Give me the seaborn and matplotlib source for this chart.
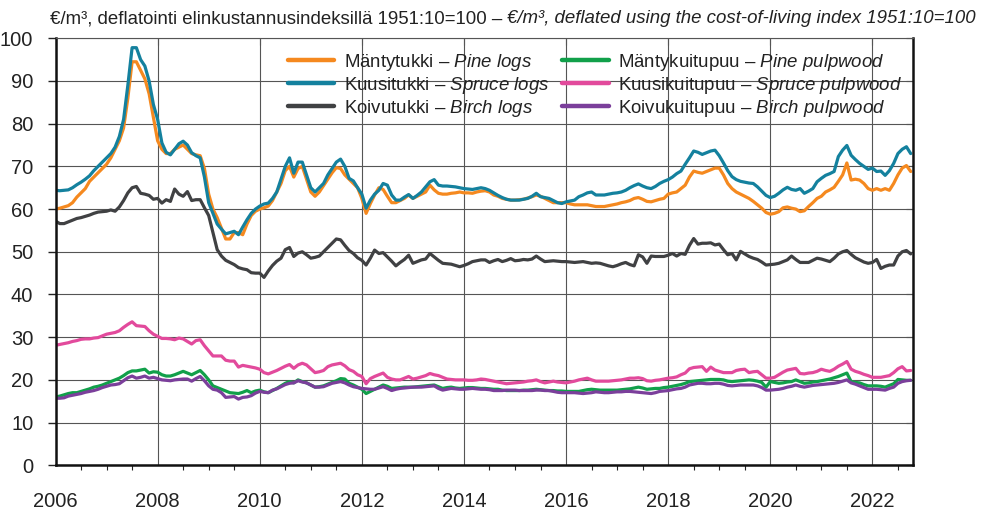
import matplotlib
matplotlib.use('Agg')
import matplotlib.pyplot as plt
from matplotlib import font_manager
from matplotlib.ticker import MultipleLocator, FormatStrFormatter
import seaborn as sns
import pandas as pd

# Kuukausihinnat 2006:01 - 2022:10, €/m³ deflatoituna (luettu kuvasta)
pine_logs = [
    60.0, 60.2, 60.5, 60.8, 61.5, 62.8, 63.8, 64.8, 66.5, 67.5, 68.5, 69.5,
    70.5, 72.0, 74.0, 76.0, 79.0, 86.0, 94.5, 94.5, 92.5, 90.5, 87.0, 81.5,
    76.0, 74.0, 73.0, 73.0, 74.0, 74.5, 75.0, 74.0, 73.0, 72.7, 72.5, 69.5,
    63.5, 60.0, 58.0, 55.5, 53.0, 53.0, 54.5, 54.5, 54.0, 56.5, 58.5, 59.5,
    60.0, 60.3, 60.7, 62.0, 64.0, 66.0, 69.0, 70.0, 67.5, 69.5, 70.0, 67.0,
    64.0, 63.0, 64.0, 65.5, 67.0, 68.5, 69.7, 69.5, 68.0, 67.0, 66.0, 65.0,
    62.5, 59.0, 61.3, 63.3, 65.0, 64.6, 63.0, 61.5, 61.5, 62.0, 62.5, 63.3,
    62.5, 63.0, 63.5, 64.0, 65.6, 64.5, 63.7, 63.5, 63.5, 63.7, 63.8, 64.0,
    63.8, 63.8, 63.7, 64.0, 64.2, 64.3, 64.0, 63.3, 63.0, 62.5, 62.3, 62.1,
    62.1, 62.2, 62.3, 62.6, 62.9, 63.3, 63.0, 62.5, 62.0, 61.5, 61.5, 61.5,
    61.5, 61.2, 61.0, 61.0, 61.0, 61.0, 60.8, 60.6, 60.6, 60.6, 60.8, 61.0,
    61.2, 61.5, 61.7, 62.0, 62.5, 62.7, 62.3, 61.8, 61.7, 62.0, 62.3, 62.5,
    63.5, 63.8, 64.0, 64.8, 65.6, 67.5, 68.9, 68.6, 68.4, 68.8, 69.2, 69.6,
    69.6, 68.0, 66.0, 64.8, 64.0, 63.5, 63.0, 62.5, 61.8, 61.0, 60.2, 59.2,
    58.8, 59.0, 59.4, 60.3, 60.5, 60.2, 60.0, 59.4, 59.6, 60.6, 61.5, 62.5,
    63.0, 64.0, 64.5, 65.1, 66.5, 68.0, 70.8, 66.8, 67.0, 66.8, 66.0, 64.8,
    64.4, 64.8, 64.4, 64.8, 64.4, 66.0, 68.0, 69.6, 70.2, 68.8,
]
spruce_logs = [
    64.4, 64.3, 64.4, 64.5, 65.0, 65.7, 66.3, 67.0, 67.8, 69.0, 70.0, 71.0,
    72.0, 73.0, 74.5, 77.0, 81.0, 89.0, 97.8, 97.8, 95.0, 93.5, 90.0, 84.5,
    81.0, 75.5, 73.3, 72.7, 74.0, 75.3, 75.9, 75.0, 73.2, 72.5, 72.0, 67.5,
    61.5, 59.0, 56.5, 55.3, 54.2, 54.5, 54.8, 54.0, 55.8, 57.5, 59.0, 60.0,
    60.7, 61.2, 61.4, 62.5, 64.0, 67.0, 70.0, 72.0, 68.4, 71.0, 71.0, 68.0,
    65.0, 64.0, 65.0, 66.0, 68.0, 69.5, 71.0, 71.7, 70.0, 67.2, 66.6, 65.0,
    63.5, 60.2, 62.1, 63.5, 64.4, 66.0, 65.6, 63.3, 62.1, 62.1, 62.8, 63.4,
    62.5, 63.2, 64.0, 65.2, 66.4, 66.9, 65.6, 65.4, 65.4, 65.3, 65.2, 65.0,
    64.8, 64.7, 64.6, 64.8, 65.0, 64.8, 64.4, 63.8, 63.2, 62.7, 62.3, 62.1,
    62.1, 62.1, 62.3, 62.5, 63.0, 63.7, 62.9, 62.7, 62.5, 62.0, 61.5, 61.3,
    61.7, 61.9, 62.1, 62.9, 63.3, 63.8, 64.0, 63.3, 63.3, 63.3, 63.5, 63.7,
    63.8, 64.0, 64.4, 65.0, 65.5, 65.9, 65.4, 65.0, 64.8, 65.3, 66.0, 66.5,
    66.9, 67.5, 68.3, 68.9, 70.5, 72.0, 73.6, 73.3, 72.8, 73.2, 73.6, 73.8,
    72.5, 70.8, 69.0, 67.6, 66.9, 66.5, 66.3, 66.1, 66.0, 65.2, 64.2, 63.2,
    62.7, 63.0, 63.7, 64.5, 65.1, 64.6, 64.4, 64.8, 63.7, 64.2, 64.8, 66.4,
    67.2, 67.9, 68.3, 68.8, 72.3, 73.8, 74.9, 72.6, 71.6, 70.7, 70.0, 69.3,
    69.6, 68.8, 68.9, 67.9, 69.0, 70.7, 73.0, 74.0, 74.6, 73.0,
]
birch_logs = [
    57.2, 56.6, 56.6, 57.0, 57.4, 57.8, 58.0, 58.3, 58.6, 59.0, 59.3, 59.4,
    59.5, 59.8, 59.5, 60.5, 62.0, 63.8, 65.0, 65.3, 63.7, 63.5, 63.2, 62.3,
    62.5, 61.4, 62.2, 61.8, 64.7, 63.5, 63.0, 64.1, 62.0, 62.2, 62.2, 60.3,
    58.5, 54.5, 50.5, 49.0, 48.0, 47.5, 47.0, 46.3, 46.0, 45.8, 45.1, 45.0,
    45.0, 44.0, 45.5, 46.8, 47.8, 48.5, 50.5, 51.0, 48.9, 49.7, 50.0, 49.3,
    48.5, 48.7, 49.0, 50.0, 51.0, 52.0, 53.0, 52.8, 51.5, 50.3, 49.6, 48.6,
    48.0, 46.9, 48.5, 50.4, 49.6, 49.8, 48.8, 47.8, 46.7, 47.5, 48.2, 49.2,
    47.3, 47.7, 48.1, 48.3, 49.6, 48.8, 48.0, 47.3, 47.2, 47.1, 46.8, 46.5,
    46.8, 47.2, 47.7, 47.9, 48.1, 48.1, 47.5, 47.9, 48.2, 47.7, 48.0, 48.4,
    47.9, 48.0, 48.2, 48.1, 48.3, 49.0, 48.3, 47.7, 47.8, 47.9, 47.8, 47.7,
    47.7, 47.6, 47.5, 47.6, 47.7, 47.5, 47.3, 47.4, 47.3, 47.0, 46.7, 46.5,
    46.8, 47.2, 47.5, 47.0, 46.7, 49.3, 48.8, 47.3, 49.0, 48.9, 48.9, 48.9,
    49.2, 49.6, 49.0, 49.6, 49.4, 51.5, 53.1, 51.8, 52.0, 52.0, 52.1, 51.6,
    51.8, 50.5, 49.3, 49.6, 48.1, 50.1, 49.5, 48.9, 48.5, 48.2, 47.6, 46.9,
    47.0, 47.1, 47.3, 47.7, 48.1, 49.0, 48.2, 47.5, 47.5, 47.5, 48.0, 48.5,
    48.3, 48.0, 47.7, 48.5, 49.5, 50.0, 50.3, 49.4, 48.6, 48.1, 47.6, 47.3,
    47.5, 48.2, 46.1, 46.6, 46.9, 46.9, 49.0, 50.0, 50.3, 49.5,
]
pine_pulp = [
    16.0, 16.2, 16.5, 16.8, 17.0, 17.0, 17.3, 17.6, 17.9, 18.3, 18.5, 18.8,
    19.2, 19.6, 20.0, 20.4, 21.0, 21.7, 22.1, 22.1, 22.3, 22.5, 21.6, 21.9,
    21.8, 21.2, 20.9, 20.9, 21.2, 21.6, 22.0, 21.6, 21.2, 21.7, 22.2, 21.2,
    20.0, 18.6, 18.2, 17.8, 17.4, 17.0, 16.9, 16.8, 17.1, 17.5, 17.0, 17.4,
    17.6, 17.2, 17.0, 17.5, 18.0, 18.6, 19.2, 19.6, 19.3, 20.0, 19.6, 19.3,
    18.8, 18.3, 18.4, 18.6, 19.0, 19.4, 19.8, 20.3, 20.2, 19.2, 18.8, 18.3,
    17.8, 16.8, 17.3, 17.8, 18.3, 18.8, 18.5, 18.0, 18.1, 18.2, 18.3, 18.3,
    18.3, 18.4, 18.5, 18.6, 18.7, 18.8, 18.4, 18.0, 18.2, 18.3, 18.1, 18.0,
    18.1, 18.2, 18.2, 18.1, 18.0, 18.0, 17.9, 17.8, 17.8, 17.6, 17.5, 17.5,
    17.5, 17.5, 17.6, 17.6, 17.7, 17.8, 17.7, 17.6, 17.5, 17.5, 17.4, 17.4,
    17.3, 17.3, 17.3, 17.3, 17.5, 17.7, 17.8, 17.7, 17.6, 17.6, 17.6, 17.6,
    17.6, 17.7, 17.8, 17.9, 18.1, 18.3, 18.1, 17.8, 17.9, 18.0, 18.0, 18.2,
    18.3, 18.5, 18.7, 18.9, 19.2, 19.6, 19.7, 19.8, 19.9, 20.0, 20.1, 20.1,
    20.1, 20.0, 19.7, 19.6, 19.7, 19.8, 19.9, 20.0, 19.9, 19.7, 19.4, 18.3,
    19.6, 19.4, 19.2, 19.3, 19.5, 19.6, 20.0, 19.6, 19.2, 19.3, 19.5, 19.6,
    19.8, 20.0, 20.2, 20.5, 20.8, 21.2, 21.6, 19.6, 19.4, 19.3, 18.9, 18.6,
    18.6, 18.6, 18.5, 18.3, 18.7, 19.1, 20.1, 20.0, 19.9, 19.9,
]
spruce_pulp = [
    28.1, 28.3, 28.5, 28.7, 29.0, 29.2, 29.5, 29.6, 29.6, 29.8, 29.9, 30.3,
    30.7, 30.9, 31.1, 31.5, 32.3, 33.0, 33.6, 32.7, 32.6, 32.5, 31.5, 30.7,
    30.2, 29.7, 29.7, 29.6, 29.4, 29.8, 29.6, 29.0, 28.4, 29.2, 29.4, 28.0,
    26.8, 25.6, 25.6, 25.6, 24.6, 24.4, 24.4, 23.0, 23.4, 23.2, 23.0, 22.8,
    22.5, 21.7, 21.4, 21.8, 22.2, 22.7, 23.2, 23.6, 22.7, 23.5, 23.9, 23.5,
    22.6, 21.7, 21.9, 22.2, 23.1, 23.5, 23.7, 23.9, 23.3, 22.4, 22.0, 21.2,
    20.8, 19.1, 20.3, 20.8, 21.2, 21.6, 20.6, 20.2, 20.0, 20.0, 20.4, 20.8,
    20.2, 20.4, 20.7, 21.0, 21.5, 21.2, 21.0, 20.6, 20.2, 20.1, 20.0, 20.0,
    20.0, 19.9, 19.9, 20.0, 20.2, 20.1, 19.9, 19.7, 19.5, 19.3, 19.1, 19.2,
    19.3, 19.4, 19.5, 19.7, 19.8, 20.0, 19.6, 19.3, 19.5, 19.7, 19.5, 19.4,
    19.3, 19.5, 19.7, 20.0, 20.2, 20.4, 20.0, 19.7, 19.7, 19.7, 19.7, 19.8,
    19.9, 20.0, 20.2, 20.4, 20.4, 20.5, 20.3, 19.8, 19.7, 19.9, 20.0, 20.2,
    20.4, 20.5, 20.7, 21.2, 21.6, 22.6, 22.9, 23.0, 23.1, 22.0, 23.0, 22.3,
    22.0, 21.7, 21.7, 21.7, 22.2, 22.4, 22.5, 21.7, 21.9, 22.0, 21.2, 20.4,
    20.4, 20.6, 21.2, 21.8, 22.3, 22.5, 22.7, 21.5, 21.4, 21.6, 21.7, 22.0,
    22.5, 22.2, 22.0, 22.5, 23.2, 23.7, 24.3, 22.5, 22.0, 21.7, 21.3, 21.0,
    20.6, 20.6, 20.6, 20.8, 21.0, 21.7, 22.6, 23.1, 22.1, 22.2,
]
birch_pulp = [
    15.7, 15.7, 15.8, 16.2, 16.4, 16.6, 16.8, 17.1, 17.3, 17.5, 17.8, 18.2,
    18.5, 18.8, 18.9, 19.1, 19.8, 20.5, 20.9, 20.4, 20.6, 20.9, 20.4, 20.6,
    20.3, 20.0, 19.9, 19.8, 20.0, 20.1, 20.2, 20.2, 19.7, 20.3, 20.8, 19.8,
    18.6, 17.8, 17.6, 17.0, 15.9, 16.0, 16.1, 15.5, 15.9, 16.0, 16.3, 16.9,
    17.3, 17.1, 17.0, 17.6, 17.9, 18.4, 18.9, 19.2, 19.3, 19.8, 19.5, 19.3,
    18.8, 18.3, 18.3, 18.4, 18.8, 19.2, 19.4, 19.6, 19.3, 18.8, 18.4, 18.2,
    18.0, 17.9, 17.8, 17.8, 18.1, 18.4, 18.0, 17.5, 17.8, 18.0, 18.1, 18.2,
    18.3, 18.3, 18.3, 18.4, 18.5, 18.6, 18.0, 17.6, 17.8, 18.0, 17.9, 17.8,
    17.8, 17.9, 18.0, 17.9, 17.8, 17.8, 17.7, 17.5, 17.5, 17.5, 17.6, 17.6,
    17.6, 17.5, 17.5, 17.5, 17.5, 17.6, 17.6, 17.5, 17.5, 17.3, 17.1, 17.0,
    17.0, 17.0, 17.0, 16.9, 16.8, 16.9, 17.0, 17.2, 17.1, 17.0, 17.0, 17.1,
    17.2, 17.2, 17.3, 17.3, 17.2, 17.1, 17.0, 16.9, 16.8, 17.0, 17.3, 17.4,
    17.5, 17.7, 17.9, 18.0, 18.3, 18.8, 19.0, 19.2, 19.2, 19.1, 19.1, 19.2,
    19.2, 19.0, 18.7, 18.6, 18.7, 18.8, 18.8, 18.8, 18.8, 18.6, 18.2, 17.6,
    17.6, 17.7, 17.8, 18.0, 18.3, 18.5, 18.8, 18.5, 18.3, 18.5, 18.7, 18.8,
    18.9, 19.0, 19.1, 19.2, 19.4, 19.7, 20.0, 19.3, 19.0, 18.6, 18.2, 17.8,
    17.8, 17.8, 17.7, 17.6, 18.0, 18.3, 19.2, 19.6, 19.8, 19.9,
]

labels = [
    r'Mäntytukki – $\it{Pine\ logs}$',
    r'Kuusitukki – $\it{Spruce\ logs}$',
    r'Koivutukki – $\it{Birch\ logs}$',
    r'Mäntykuitupuu – $\it{Pine\ pulpwood}$',
    r'Kuusikuitupuu – $\it{Spruce\ pulpwood}$',
    r'Koivukuitupuu – $\it{Birch\ pulpwood}$',
]
colors = ['#F5891F', '#14819E', '#404143', '#11A04A', '#E24A9C', '#7B3F9B']

months = pd.period_range('2006-01', '2022-10', freq='M')
df = pd.DataFrame({'vuosi': months.year + (months.month - 1) / 12})
for lab, vals in zip(labels, [pine_logs, spruce_logs, birch_logs,
                              pine_pulp, spruce_pulp, birch_pulp]):
    df[lab] = vals
df_long = df.melt(id_vars='vuosi', var_name='laji', value_name='hinta')

sns.set_theme(style='white')


def font_ok(name):
    try:
        font_manager.findfont(font_manager.FontProperties(family=name),
                              fallback_to_default=False)
        return True
    except ValueError:
        return False


narrow = 'Liberation Sans Narrow' if font_ok('Liberation Sans Narrow') else 'Liberation Sans'
plt.rcParams['font.family'] = ['Liberation Sans', 'DejaVu Sans']
plt.rcParams['mathtext.fontset'] = 'custom'
plt.rcParams['mathtext.rm'] = 'Liberation Sans'
plt.rcParams['mathtext.it'] = 'Liberation Sans:italic'

fig = plt.figure(figsize=(9.81, 5.16), dpi=100)
ax = fig.add_axes([0.0566, 0.0983, 0.8738, 0.8275])

sns.lineplot(data=df_long, x='vuosi', y='hinta', hue='laji', hue_order=labels,
             palette=colors, linewidth=2.3, legend=False, ax=ax)

ax.set_xlim(2006, 2022.79)
ax.set_ylim(0, 100)
ax.set_xlabel('')
ax.set_ylabel('')

ax.xaxis.set_major_locator(MultipleLocator(2))
ax.xaxis.set_minor_locator(MultipleLocator(0.5))
ax.xaxis.set_major_formatter(FormatStrFormatter('%d'))
ax.yaxis.set_major_locator(MultipleLocator(10))
ax.grid(True, which='major', color='#555555', linewidth=0.8)

ax.tick_params(axis='x', which='major', direction='out', length=6, width=1,
               pad=13, colors='#222222')
ax.tick_params(axis='x', which='minor', direction='out', length=3.5, width=0.8,
               colors='#222222', bottom=True)
ax.tick_params(axis='y', direction='out', length=6, width=1, pad=10,
               colors='#222222', left=True)
for lbl in ax.get_xticklabels() + ax.get_yticklabels():
    lbl.set_fontfamily([narrow, 'DejaVu Sans'])
    lbl.set_fontsize(14.5)
    lbl.set_color('#222222')

for side in ['left', 'bottom', 'right']:
    ax.spines[side].set_color('#111111')
    ax.spines[side].set_linewidth(1.8)
ax.spines['top'].set_color('#555555')
ax.spines['top'].set_linewidth(0.8)

# sisäänpäin osoittavat merkit ylä- ja oikeassa reunassa
top = ax.secondary_xaxis('top')
top.xaxis.set_major_locator(MultipleLocator(2))
top.tick_params(direction='in', length=5, width=0.8, labeltop=False, colors='#444444')
top.spines['top'].set_visible(False)
right = ax.secondary_yaxis('right')
right.yaxis.set_major_locator(MultipleLocator(10))
right.tick_params(direction='in', length=5, width=0.8, labelright=False, colors='#222222')
right.spines['right'].set_visible(False)

leg = ax.legend(ax.lines[:6], labels, ncol=2, loc='upper left',
                bbox_to_anchor=(0.271, 0.969), frameon=False, fontsize=13.4,
                handlelength=2.5, handletextpad=0.5, columnspacing=0.7,
                labelspacing=0.12, borderpad=0, borderaxespad=0)
for h in leg.get_lines():
    h.set_linewidth(3.2)
for t in leg.get_texts():
    t.set_color('#222222')

t1 = fig.text(0.051, 0.964, '€/m³, deflatointi elinkustannusindeksillä 1951:10=100 –',
              ha='left', va='center', fontsize=13.4, color='#222222')
ax.annotate('€/m³, deflated using the cost-of-living index 1951:10=100',
            xy=(1, 0.5), xycoords=t1, xytext=(3.5, 0), textcoords='offset points',
            ha='left', va='center', fontsize=13.4, style='italic', color='#222222')

fig.savefig('out.png', dpi=100)
